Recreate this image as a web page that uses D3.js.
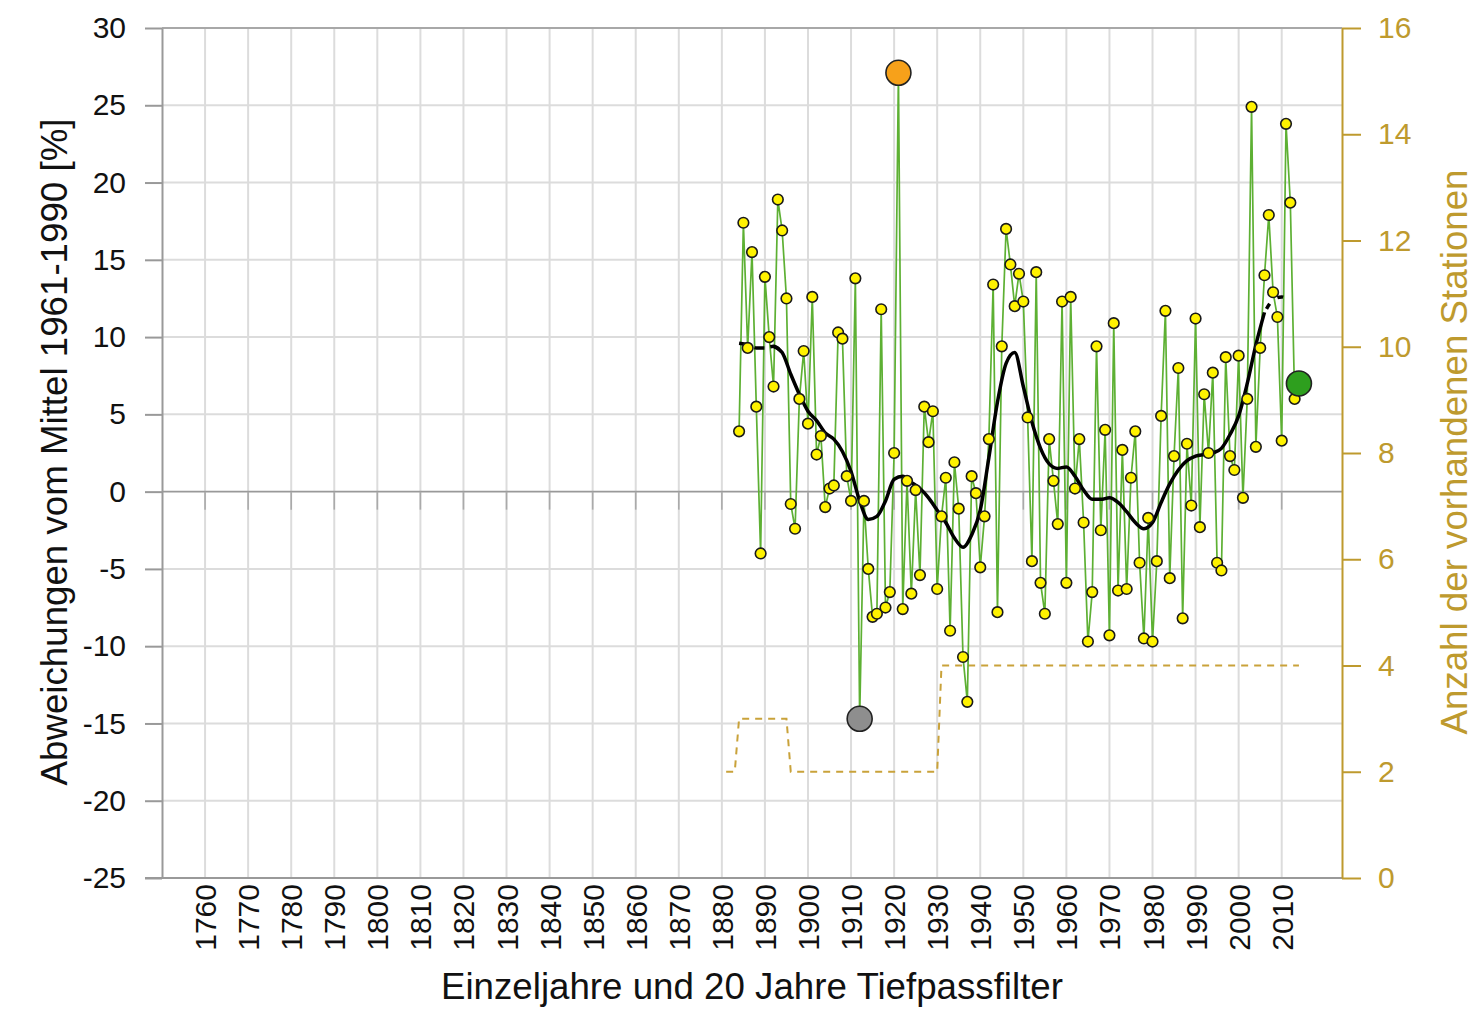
<!DOCTYPE html>
<html><head><meta charset="utf-8">
<script src="https://cdn.jsdelivr.net/npm/d3@7"></script>
<style>body{margin:0;background:#fff} svg{font-family:"Liberation Sans",Arial,sans-serif;display:block}</style>
</head><body><svg id="c" width="1483" height="1012"></svg>
<script>
// ---- data ----
const firstYear = 1884;
const values = [
 3.9,17.4,9.3,15.5,5.5,-4.0,13.9,10.0,6.8,18.9,          // 1884-1893
 16.9,12.5,-0.8,-2.4,6.0,9.1,4.4,12.6,2.4,3.6,           // 1894-1903
 -1.0,0.2,0.4,10.3,9.9,1.0,-0.6,13.8,-14.7,-0.6,         // 1904-1913
 -5.0,-8.1,-7.9,11.8,-7.5,-6.5,2.5,27.1,-7.6,0.7,        // 1914-1923
 -6.6,0.1,-5.4,5.5,3.2,5.2,-6.3,-1.6,0.9,-9.0,           // 1924-1933
 1.9,-1.1,-10.7,-13.6,1.0,-0.1,-4.9,-1.6,3.4,13.4,       // 1934-1943
 -7.8,9.4,17.0,14.7,12.0,14.1,12.3,4.8,-4.5,14.2,        // 1944-1953
 -5.9,-7.9,3.4,0.7,-2.1,12.3,-5.9,12.6,0.2,3.4,          // 1954-1963
 -2.0,-9.7,-6.5,9.4,-2.5,4.0,-9.3,10.9,-6.4,2.7,         // 1964-1973
 -6.3,0.9,3.9,-4.6,-9.5,-1.7,-9.7,-4.5,4.9,11.7,         // 1974-1983
 -5.6,2.3,8.0,-8.2,3.1,-0.9,11.2,-2.3,6.3,2.5,           // 1984-1993
 7.7,-4.6,-5.1,8.7,2.3,1.4,8.8,-0.4,6.0,24.9,            // 1994-2003
 2.9,9.3,14.0,17.9,12.9,11.3,3.3,23.8,18.7,6.0,          // 2004-2013
 7.0                                                     // 2014
];
const smoothYears  = [1884,1886,1888,1890,1892,1894,1896,1898,1900,1902,1904,1906,1908,1910,1912,1914,1916,1918,1920,1922,1924,1926,1928,1930,1932,1934,1936,1938,1940,1942,1944,1946,1948,1950,1952,1954,1956,1958,1960,1962,1964,1966,1968,1970,1972,1974,1976,1978,1980,1982,1984,1986,1988,1990,1992,1994,1996,1998,2000,2002,2004,2006,2008,2010,2012];
const smoothValues = [9.6,9.5,9.3,9.3,9.4,9.0,7.6,6.3,5.2,4.6,3.8,3.4,2.6,1.3,-0.6,-1.8,-1.6,-0.6,0.8,1.0,0.6,0.2,-0.4,-1.2,-2.0,-3.0,-3.6,-2.8,-1.2,2.2,5.8,8.3,9.0,6.8,4.5,2.8,1.8,1.5,1.6,1.0,0.1,-0.5,-0.5,-0.4,-0.7,-1.3,-2.0,-2.4,-2.0,-0.7,0.5,1.4,2.0,2.3,2.4,2.5,2.8,3.7,4.9,7.0,9.5,11.6,12.4,12.6,12.3];
const smoothSolidFrom = 1893, smoothSolidTo = 2006;
const stationYears  = [1881,1883,1884,1895,1896,1930,1931,2014];
const stationCounts = [2,2,3,3,2,2,4,4];
const yTicks = [-25,-20,-15,-10,-5,0,5,10,15,20,25,30];
const y2Ticks = [0,2,4,6,8,10,12,14,16];
const xTicks = d3.range(1760, 2011, 10);
const yLabel = "Abweichungen vom Mittel 1961-1990 [%]";
const y2Label = "Anzahl der vorhandenen Stationen";
const xLabel = "Einzeljahre und 20 Jahre Tiefpassfilter";

// ---- layout ----
const L = 162, R = 1342, T = 28, B = 878;
const gold = "#BE9A2E";
const tickFont = 30, titleFont = 36.7;
const svg = d3.select("#c");
const x = d3.scaleLinear().domain([1750, 2024]).range([L, R]);
const y = d3.scaleLinear().domain([-25, 30]).range([B, T]);
const y2 = d3.scaleLinear().domain([0, 16]).range([B, T]);

// gridlines
svg.append("g").selectAll("line").data(xTicks).join("line")
  .attr("x1", d => x(d)).attr("x2", d => x(d)).attr("y1", T).attr("y2", B)
  .attr("stroke", "#dcdcdc").attr("stroke-width", 2);
svg.append("g").selectAll("line").data(yTicks.filter(d => d !== 0 && d !== -25 && d !== 30)).join("line")
  .attr("x1", L).attr("x2", R).attr("y1", d => y(d)).attr("y2", d => y(d))
  .attr("stroke", "#dcdcdc").attr("stroke-width", 2);
svg.append("line").attr("x1", L).attr("x2", R).attr("y1", y(30)).attr("y2", y(30))
  .attr("stroke", "#a8a8a8").attr("stroke-width", 2);

// zero line with ticks
svg.append("line").attr("x1", L).attr("x2", R).attr("y1", y(0)).attr("y2", y(0))
  .attr("stroke", "#999").attr("stroke-width", 1.6);
svg.append("g").selectAll("line").data(xTicks).join("line")
  .attr("x1", d => x(d)).attr("x2", d => x(d)).attr("y1", y(0)).attr("y2", y(0) + 18)
  .attr("stroke", "#aaa").attr("stroke-width", 1.6);

// left axis
const ax = svg.append("g").attr("transform", `translate(${L},0)`)
  .call(d3.axisLeft(y).tickValues(yTicks).tickFormat(d => String(d)).tickSize(17).tickSizeOuter(0).tickPadding(19));
ax.select(".domain").attr("stroke", "#999").attr("stroke-width", 2);
ax.selectAll(".tick line").attr("stroke", "#999").attr("stroke-width", 2);
ax.selectAll("text").attr("font-size", tickFont).attr("fill", "#111");

// bottom axis line
svg.append("line").attr("x1", L - 17).attr("x2", R).attr("y1", B).attr("y2", B)
  .attr("stroke", "#999").attr("stroke-width", 2);

// right axis
const ax2 = svg.append("g").attr("transform", `translate(${R},0)`)
  .call(d3.axisRight(y2).tickValues(y2Ticks).tickFormat(d => String(d)).tickSize(19).tickSizeOuter(0).tickPadding(17));
ax2.select(".domain").attr("stroke", gold).attr("stroke-width", 2);
ax2.selectAll(".tick line").attr("stroke", gold).attr("stroke-width", 2);
ax2.selectAll("text").attr("font-size", tickFont).attr("fill", gold);

// x tick labels (rotated)
svg.append("g").selectAll("text").data(xTicks).join("text")
  .attr("transform", d => `translate(${x(d) + 11},884) rotate(-90)`)
  .attr("text-anchor", "end").attr("font-size", tickFont).attr("fill", "#111")
  .text(d => d);

// titles
svg.append("text").attr("transform", "translate(67,452) rotate(-90)")
  .attr("text-anchor", "middle").attr("font-size", titleFont).attr("fill", "#111").text(yLabel);
svg.append("text").attr("transform", "translate(1467,452) rotate(-90)")
  .attr("text-anchor", "middle").attr("font-size", titleFont).attr("fill", gold).text(y2Label);
svg.append("text").attr("x", 752).attr("y", 999)
  .attr("text-anchor", "middle").attr("font-size", titleFont).attr("fill", "#111").text(xLabel);

// station count dashed line
const stations = stationYears.map((yr, i) => ({yr, n: stationCounts[i]}));
svg.append("path").datum(stations)
  .attr("d", d3.line().x(d => x(d.yr)).y(d => y2(d.n)))
  .attr("fill", "none").attr("stroke", "#C9A23A").attr("stroke-width", 2)
  .attr("stroke-dasharray", "7,6");

// yearly series
const data = values.map((v, i) => ({yr: firstYear + i, v}));
svg.append("path").datum(data)
  .attr("d", d3.line().x(d => x(d.yr)).y(d => y(d.v)))
  .attr("fill", "none").attr("stroke", "#5DB033").attr("stroke-width", 1.7);

// smoothed line
const smooth = smoothYears.map((yr, i) => ({yr, v: smoothValues[i]}));
const sline = d3.line().x(d => x(d.yr)).y(d => y(d.v)).curve(d3.curveMonotoneX);
const pre = smooth.filter(d => d.yr <= smoothSolidFrom + 1);
const mid = smooth.filter(d => d.yr >= smoothSolidFrom - 1 && d.yr <= smoothSolidTo);
const post = smooth.filter(d => d.yr >= smoothSolidTo);
svg.append("path").datum(pre).attr("d", sline).attr("fill", "none")
  .attr("stroke", "#000").attr("stroke-width", 3.5).attr("stroke-dasharray", "10,6");
svg.append("path").datum(mid).attr("d", sline).attr("fill", "none")
  .attr("stroke", "#000").attr("stroke-width", 3.5);
svg.append("path").datum(post).attr("d", sline).attr("fill", "none")
  .attr("stroke", "#000").attr("stroke-width", 3.5).attr("stroke-dasharray", "6,10").attr("stroke-dashoffset", -4);

// yearly points
const maxD = data.reduce((a, b) => b.v > a.v ? b : a);
const minD = data.reduce((a, b) => b.v < a.v ? b : a);
const lastD = data[data.length - 1];
svg.append("g").selectAll("circle").data(data.filter(d => d !== maxD && d !== minD && d !== lastD)).join("circle")
  .attr("cx", d => x(d.yr)).attr("cy", d => y(d.v)).attr("r", 5.3)
  .attr("fill", "#FFF200").attr("stroke", "#1a1a1a").attr("stroke-width", 1.6);
const specials = [{d: maxD, c: "#F7A11A"}, {d: minD, c: "#8E8E8E"}, {d: lastD, c: "#2E9F1E"}];
svg.append("g").selectAll("circle").data(specials).join("circle")
  .attr("cx", s => x(s.d.yr)).attr("cy", s => y(s.d.v)).attr("r", 12.5)
  .attr("fill", s => s.c).attr("stroke", "#222").attr("stroke-width", 1.6);
</script></body></html>
